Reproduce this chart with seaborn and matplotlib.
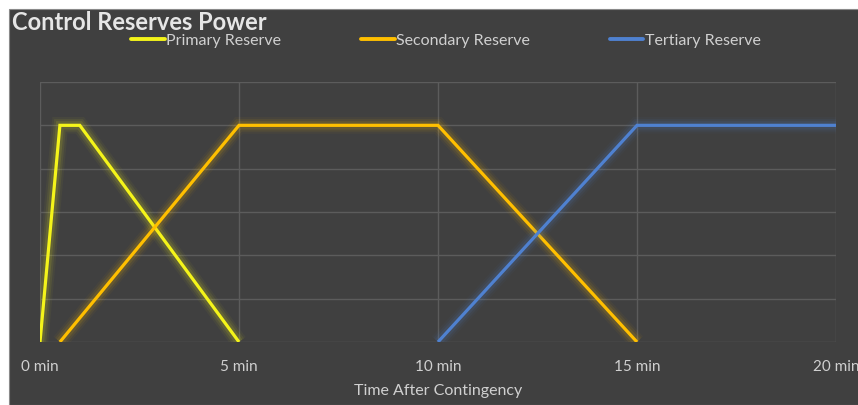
import matplotlib
matplotlib.use("Agg")
import matplotlib.pyplot as plt
import matplotlib.patheffects as pe
from matplotlib.patches import Rectangle
import pandas as pd
import seaborn as sns

# Reserve activation profiles (minutes after contingency, power level)
primary_t = [0, 0.5, 1, 5]
primary_p = [0, 5, 5, 0]
secondary_t = [0.5, 5, 10, 15]
secondary_p = [0, 5, 5, 0]
tertiary_t = [10, 15, 20]
tertiary_p = [0, 5, 5]

series_names = ["Primary Reserve", "Secondary Reserve", "Tertiary Reserve"]
series_colors = ["#f4f41a", "#ffbf00", "#4f81d0"]
tick_minutes = [0, 5, 10, 15, 20]
tick_labels = ["0 min", "5 min", "10 min", "15 min", "20 min"]

frames = []
for name, t, p in zip(series_names,
                      [primary_t, secondary_t, tertiary_t],
                      [primary_p, secondary_p, tertiary_p]):
    frames.append(pd.DataFrame({"time": t, "power": p, "series": name}))
df = pd.concat(frames, ignore_index=True)

sns.set_theme(style="dark")
plt.rcParams["font.family"] = ["Lato", "DejaVu Sans"]

W, H = 858, 405
fig = plt.figure(figsize=(W / 100, H / 100), dpi=100)
fig.patch.set_facecolor("white")
BG = "#404040"
fig.patches.append(Rectangle((9 / W, 0), 1, 1 - 9 / H, transform=fig.transFigure,
                             facecolor=BG, edgecolor="#8a8a8a", linewidth=0.8,
                             zorder=-10))

ax = fig.add_axes([40 / W, 1 - 342 / H, (836 - 40) / W, (342 - 82) / H])
ax.set_facecolor(BG)

sns.lineplot(data=df, x="time", y="power", hue="series", hue_order=series_names,
             palette=series_colors, estimator=None, sort=False, linewidth=2.3,
             ax=ax, legend=False)

# soft glow around each line
for line, col in zip(ax.get_lines(), series_colors):
    effects = [pe.Stroke(linewidth=w, foreground=col, alpha=a)
               for w, a in [(12, 0.04), (9, 0.07), (6, 0.11)]]
    line.set_path_effects(effects + [pe.Normal()])
    line.set_solid_capstyle("butt")
    line.set_solid_joinstyle("miter")

ax.set_xlim(0, 20)
ax.set_ylim(0, 6)
ax.set_xticks(tick_minutes)
ax.set_xticklabels(tick_labels)
ax.set_yticks(range(0, 7))
ax.set_yticklabels([])
ax.tick_params(axis="x", colors="#d0d0d0", labelsize=11, length=0, pad=13)
ax.tick_params(axis="y", length=0)
ax.grid(True, color="#5c5c5c", linewidth=1)
ax.set_axisbelow(True)
for s in ax.spines.values():
    s.set_visible(False)
ax.set_xlabel("Time After Contingency", color="#d0d0d0", fontsize=11.5, labelpad=7.5)
ax.set_ylabel("")

fig.text(12 / W, 1 - 23 / H, "Control Reserves Power", color="#e6e6e6",
         fontsize=17, fontweight="bold", va="center", ha="left")

handles = [plt.Line2D([], [], color=c, linewidth=2.8) for c in series_colors]
fig.legend(handles, series_names, loc="center", ncol=3,
           bbox_to_anchor=(446 / W, 1 - 41 / H), frameon=False,
           fontsize=11.5, labelcolor="#d0d0d0", handlelength=2.1,
           handletextpad=0.1, columnspacing=5.0)

fig.savefig("out.png", dpi=100, facecolor=fig.get_facecolor())
